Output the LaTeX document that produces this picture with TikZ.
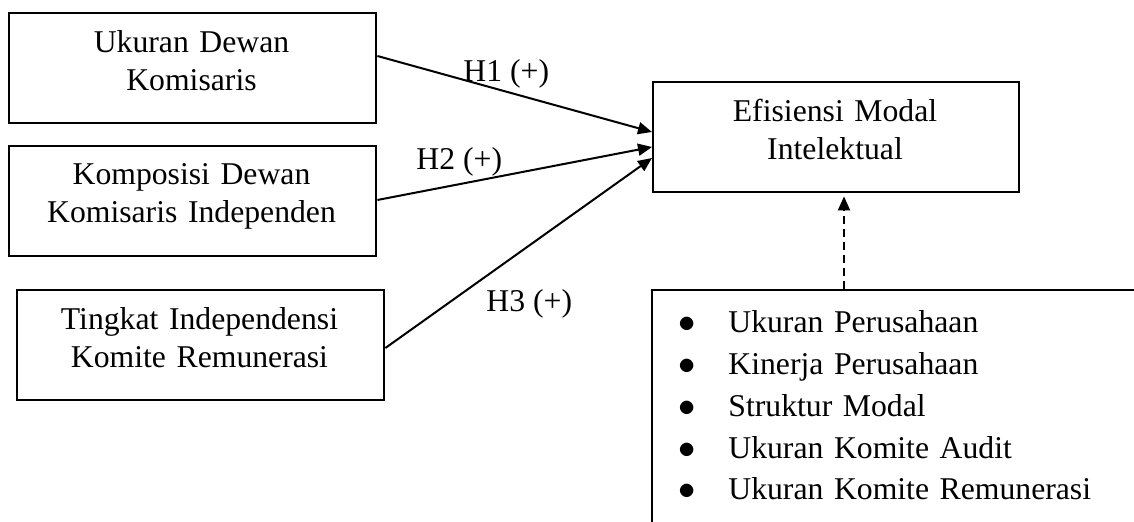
\documentclass[tikz,border=0pt]{standalone}
\usepackage{fontspec}
\setmainfont{Liberation Serif}
\usetikzlibrary{arrows.meta}
\begin{document}
\begin{tikzpicture}[x=0.5pt,y=-0.5pt,
  boxnode/.style={draw,line width=1.2pt,rectangle,inner sep=0pt,anchor=north west},
  txt/.style={inner sep=0pt,font=\fontsize{15.85pt}{19pt}\selectfont,align=center,text width=180pt,anchor=base},
  lbl/.style={inner sep=0pt,font=\fontsize{15.85pt}{19pt}\selectfont,anchor=base west},
  listtxt/.style={inner sep=0pt,font=\fontsize{15.85pt}{20.85pt}\selectfont,anchor=base west,align=left,text width=200pt},
  bul/.style={inner sep=0pt,font=\fontsize{15.85pt}{20.85pt}\selectfont,anchor=base,align=center,text width=20pt},
  arr/.style={line width=1pt,-{Triangle[length=7pt,width=6pt]}}]
\useasboundingbox (0,0) rectangle (1134,522);
\clip (0,0) rectangle (1134,522);
% boxes
\node[boxnode,minimum width=183.5pt,minimum height=55pt] (b1) at (8,12) {};
\node[boxnode,minimum width=183.5pt,minimum height=55pt] (b2) at (8,145) {};
\node[boxnode,minimum width=183.5pt,minimum height=55pt] (b3) at (16,289) {};
\node[boxnode,minimum width=183pt,minimum height=55pt] (b4) at (652,81) {};
\node[boxnode,minimum width=300pt,minimum height=200pt] (b5) at (651,289) {};
% texts
\node[txt] (t1) at (191.5,53) {Ukuran Dewan\\Komisaris};
\node[txt] (t2) at (191.5,185) {Komposisi Dewan\\Komisaris Independen};
\node[txt] (t3) at (199.5,330) {Tingkat Independensi\\Komite Remunerasi};
\node[txt] (t4) at (835,122) {Efisiensi Modal\\Intelektual};
\node[bul] (bl) at (687,333) {$\bullet$\\$\bullet$\\$\bullet$\\$\bullet$\\$\bullet$};
\node[listtxt] (lt) at (728,333) {Ukuran Perusahaan\\Kinerja Perusahaan\\Struktur Modal\\Ukuran Komite Audit\\Ukuran Komite Remunerasi};
% connectors
\draw[arr] (b1.east |- 0,56) -- (b4.west |- 0,132);
\draw[arr] (b2.east |- 0,200) -- (b4.west |- 0,147);
\draw[arr] (b3.east |- 0,348) -- (b4.west |- 0,158);
\coordinate (dx) at (844,0);
\draw[arr,dash pattern=on 4pt off 2.5pt,shorten >=1.5pt] (b5.north -| dx) -- (b4.south -| dx);
% labels
\node[lbl] (h1) at (463,82) {H1 (+)};
\node[lbl] (h2) at (416,170) {H2 (+)};
\node[lbl] (h3) at (486,312) {H3 (+)};
\end{tikzpicture}
\end{document}
